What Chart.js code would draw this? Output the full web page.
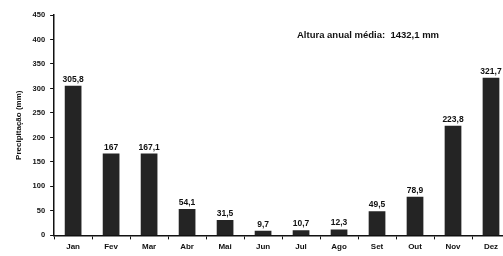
<!DOCTYPE html>
<html>
<head>
<meta charset="utf-8">
<script src="https://cdn.jsdelivr.net/npm/chart.js@4/dist/chart.umd.min.js"></script>
<style>
  html, body { margin: 0; padding: 0; background: #fff; overflow: hidden; }
  #wrap { width: 512px; height: 256px; }
</style>
</head>
<body>
<div id="wrap"><canvas id="myChart"></canvas></div>
<script>
let meses = ['Jan', 'Fev', 'Mar', 'Abr', 'Mai', 'Jun', 'Jul', 'Ago', 'Set', 'Out', 'Nov', 'Dez'];
let precipitacao = [305.8, 167, 167.1, 54.1, 31.5, 9.7, 10.7, 12.3, 49.5, 78.9, 223.8, 321.7];
let mediaAnual = '1432,1';

const fonte = "'Liberation Sans', Arial, sans-serif";

// rotulos com virgula em cima das barras
const rotulos = {
    id: 'rotulos',
    afterDatasetsDraw(chart) {
        const ctx = chart.ctx;
        const meta = chart.getDatasetMeta(0);
        ctx.save();
        ctx.fillStyle = '#111';
        ctx.font = 'bold 8.5px ' + fonte;
        ctx.textAlign = 'center';
        ctx.textBaseline = 'bottom';
        meta.data.forEach((bar, i) => {
            let txt = String(precipitacao[i]).replace('.', ',');
            ctx.fillText(txt, bar.x, bar.y - 2);
        });
        // texto da media anual
        ctx.font = 'bold 9.5px ' + fonte;
        ctx.textAlign = 'left';
        ctx.textBaseline = 'middle';
        ctx.fillText('Altura anual média:  ' + mediaAnual + ' mm', 297, 35);
        ctx.restore();
    }
};

new Chart('myChart', {
    type: 'bar',
    data: {
        labels: meses,
        datasets: [{
            data: precipitacao,
            backgroundColor: '#242424',
            borderWidth: 0,
            barPercentage: 0.88,
            categoryPercentage: 0.5
        }]
    },
    options: {
        responsive: true,
        maintainAspectRatio: false,
        animation: false,
        layout: { padding: { top: 15, right: 2, left: 14, bottom: 1 } },
        plugins: {
            legend: { display: false },
            tooltip: { enabled: false }
        },
        scales: {
            x: {
                grid: { drawOnChartArea: false, tickLength: 4, color: '#111', lineWidth: 1 },
                border: { color: '#111', width: 1.5 },
                ticks: { color: '#111', font: { family: fonte, size: 8, weight: 'bold' }, padding: 3 }
            },
            y: {
                min: 0,
                max: 450,
                grid: { drawOnChartArea: false, tickLength: 4, color: '#111', lineWidth: 1 },
                border: { color: '#111', width: 1.5 },
                ticks: { stepSize: 50, color: '#111', font: { family: fonte, size: 7.5, weight: 'bold' }, padding: 5 },
                title: {
                    display: true,
                    text: 'Precipitação (mm)',
                    color: '#111',
                    font: { family: fonte, size: 8, weight: 'bold' },
                    padding: { top: 0, bottom: 4 }
                }
            }
        }
    },
    plugins: [rotulos]
});
</script>
</body>
</html>
